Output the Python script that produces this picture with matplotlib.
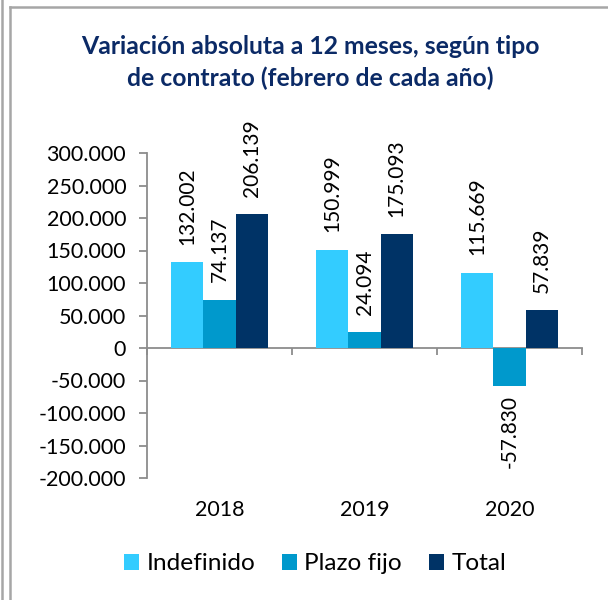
import matplotlib
matplotlib.use("Agg")
import matplotlib.pyplot as plt
from matplotlib.lines import Line2D
from matplotlib.patches import Patch
import numpy as np

years = ["2018", "2019", "2020"]
series_names = ["Indefinido", "Plazo fijo", "Total"]
indefinido = [132002, 150999, 115669]
plazo_fijo = [74137, 24094, -57830]
total = [206139, 175093, 57839]
colors = ["#33CCFF", "#0099CC", "#003366"]
yticks = [300000, 250000, 200000, 150000, 100000, 50000, 0,
          -50000, -100000, -150000, -200000]

plt.rcParams['font.family'] = ['Lato', 'DejaVu Sans']

def fmt(v):
    s = f"{abs(v):,}".replace(",", ".")
    return ("-" if v < 0 else "") + s

fig = plt.figure(figsize=(6.08, 6.0), dpi=100)
ax = fig.add_axes([147/608, 1-478/600, (582-147)/608, (478-153)/600])

ymin, ymax = -200000, 300000
ax.set_ylim(ymin, ymax)
ax.set_xlim(-0.5, 2.5)

x = np.arange(len(years))
w = 0.222
data = [indefinido, plazo_fijo, total]
for i, (vals, c) in enumerate(zip(data, colors)):
    pos = x + (i - 1) * w
    ax.bar(pos, vals, width=w, color=c, edgecolor='none', zorder=2)
    for px, v in zip(pos, vals):
        if v >= 0:
            ax.annotate(fmt(v), (px, v), xytext=(0, 12.5), textcoords='offset points',
                        rotation=90, ha='center', va='bottom', fontsize=15, color='black')
        else:
            ax.annotate(fmt(v), (px, v), xytext=(0, -7), textcoords='offset points',
                        rotation=90, ha='center', va='top', fontsize=15, color='black')

gray = '#8C8C8C'
for s in ['top', 'right', 'bottom']:
    ax.spines[s].set_visible(False)
ax.spines['left'].set_color(gray)
ax.spines['left'].set_linewidth(1.3)
ax.set_yticks(yticks)
ax.set_yticklabels([fmt(v) for v in yticks], fontsize=15.5)
ax.tick_params(axis='y', direction='out', length=6, color=gray, width=1.3, pad=9)

ax.set_xticks(x)
ax.set_xticklabels(years, fontsize=15.5)
ax.tick_params(axis='x', length=0, pad=16)

# zero axis line with category boundary ticks
zloc = -ymin / (ymax - ymin)
sec = ax.secondary_xaxis(zloc)
sec.spines['bottom'].set_color(gray)
sec.spines['bottom'].set_linewidth(1.3)
sec.set_xticks([-0.5, 0.5, 1.5, 2.5])
sec.set_xticklabels([])
sec.tick_params(axis='x', direction='out', length=5, color=gray, width=1.3)

title_kw = dict(ha='center', va='center', fontsize=17.8, fontweight='bold', color='#0B2A66')
fig.text(310/608, 1-47/600, "Variación absoluta a 12 meses, según tipo", **title_kw)
fig.text(310/608, 1-78/600, "de contrato (febrero de cada año)", **title_kw)

handles = [Patch(facecolor=c, edgecolor='none') for c in colors]
fig.legend(handles, series_names, loc='center', bbox_to_anchor=(315/608, 1-564/600),
           ncol=3, frameon=False, fontsize=17.6, handlelength=0.62, handleheight=0.62,
           handletextpad=0.3, columnspacing=1.1, borderpad=0, borderaxespad=0)

# frame lines
fig.add_artist(Line2D([10/608, 10/608], [0, 1-7/600], transform=fig.transFigure,
                      color='#A6A6A6', lw=1.8))
fig.add_artist(Line2D([10/608, 1], [1-7/600, 1-7/600], transform=fig.transFigure,
                      color='#A6A6A6', lw=1.8))
fig.add_artist(Line2D([1.5/608, 1.5/608], [0, 1], transform=fig.transFigure,
                      color='#A6A6A6', lw=1.8))

fig.savefig("out.png", dpi=100)
